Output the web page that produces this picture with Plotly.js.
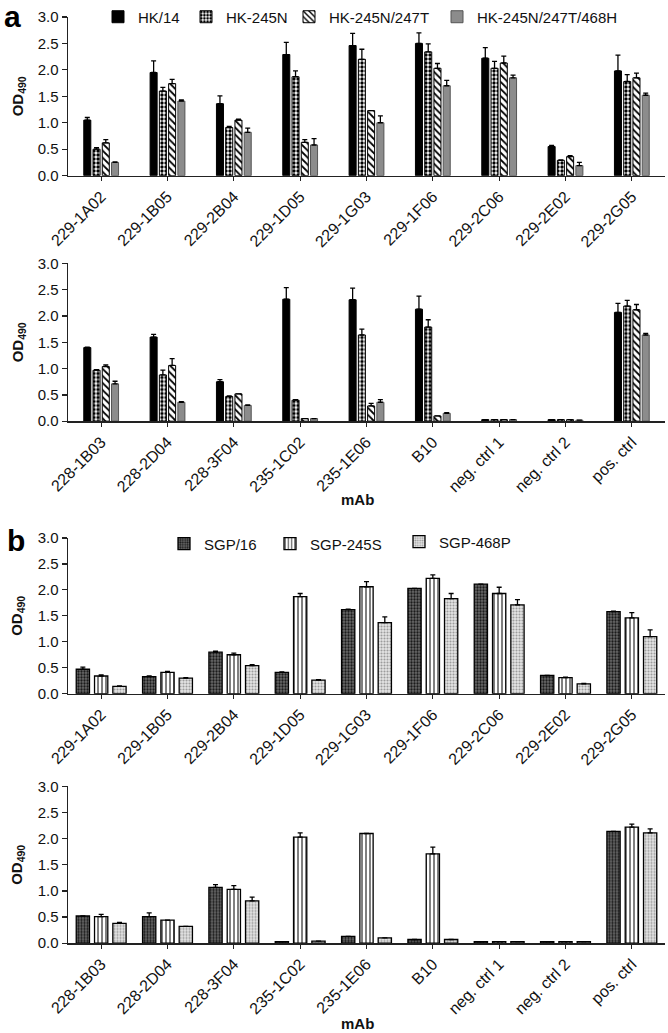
<!DOCTYPE html>
<html><head><meta charset="utf-8">
<script src="https://cdn.plot.ly/plotly-3.0.1.min.js"></script>
<style>html,body{margin:0;padding:0;background:#fff;}#chart{width:668px;height:1033px;}</style>
</head><body><div id="chart"></div>
<script>
// ---- data ----
const catsTop = ['229-1A02','229-1B05','229-2B04','229-1D05','229-1G03','229-1F06','229-2C06','229-2E02','229-2G05'];
const catsBottom = ['228-1B03','228-2D04','228-3F04','235-1C02','235-1E06','B10','neg. ctrl 1','neg. ctrl 2','pos. ctrl'];

const seriesA = ['HK/14','HK-245N','HK-245N/247T','HK-245N/247T/468H'];
const seriesB = ['SGP/16','SGP-245S','SGP-468P'];

// panel a, top row
const hk14Top      = [1.05,1.95,1.36,2.29,2.46,2.50,2.22,0.55,1.98];
const hk14TopErr   = [0.05,0.22,0.15,0.23,0.23,0.20,0.20,0.02,0.30];
const hk245Top     = [0.50,1.60,0.91,1.87,2.20,2.34,2.03,0.29,1.78];
const hk245TopErr  = [0.03,0.07,0.02,0.11,0.19,0.15,0.13,0.01,0.13];
const hk247Top     = [0.62,1.74,1.05,0.63,1.23,2.03,2.13,0.36,1.85];
const hk247TopErr  = [0.06,0.08,0.02,0.05,0.00,0.09,0.13,0.02,0.09];
const hk468Top     = [0.25,1.41,0.82,0.58,1.00,1.70,1.85,0.19,1.52];
const hk468TopErr  = [0.01,0.02,0.08,0.12,0.13,0.10,0.05,0.06,0.04];
// panel a, bottom row
const hk14Bot      = [1.40,1.60,0.75,2.32,2.31,2.13,0.03,0.03,2.07];
const hk14BotErr   = [0.01,0.05,0.04,0.22,0.22,0.25,0.00,0.00,0.17];
const hk245Bot     = [0.97,0.88,0.47,0.40,1.64,1.79,0.03,0.03,2.19];
const hk245BotErr  = [0.01,0.09,0.01,0.01,0.11,0.14,0.00,0.00,0.11];
const hk247Bot     = [1.04,1.06,0.52,0.05,0.29,0.10,0.03,0.03,2.12];
const hk247BotErr  = [0.03,0.13,0.00,0.00,0.05,0.00,0.00,0.00,0.10];
const hk468Bot     = [0.71,0.36,0.30,0.05,0.36,0.15,0.03,0.02,1.64];
const hk468BotErr  = [0.05,0.01,0.01,0.00,0.05,0.01,0.00,0.00,0.03];
// panel b, top row
const sgp16Top     = [0.47,0.33,0.80,0.41,1.62,2.03,2.11,0.35,1.58];
const sgp16TopErr  = [0.04,0.01,0.02,0.01,0.01,0.00,0.00,0.00,0.01];
const sgp245Top    = [0.34,0.41,0.75,1.87,2.06,2.22,1.93,0.31,1.46];
const sgp245TopErr = [0.02,0.02,0.03,0.06,0.10,0.07,0.12,0.01,0.10];
const sgp468Top    = [0.14,0.30,0.54,0.26,1.37,1.83,1.71,0.19,1.10];
const sgp468TopErr = [0.01,0.01,0.02,0.01,0.11,0.10,0.10,0.01,0.13];
// panel b, bottom row
const sgp16Bot     = [0.52,0.51,1.07,0.03,0.13,0.07,0.03,0.03,2.14];
const sgp16BotErr  = [0.00,0.07,0.05,0.00,0.00,0.00,0.00,0.00,0.00];
const sgp245Bot    = [0.51,0.44,1.03,2.03,2.10,1.71,0.03,0.03,2.22];
const sgp245BotErr = [0.04,0.00,0.07,0.08,0.00,0.13,0.00,0.00,0.06];
const sgp468Bot    = [0.38,0.32,0.81,0.04,0.10,0.07,0.03,0.03,2.11];
const sgp468BotErr = [0.02,0.00,0.07,0.00,0.00,0.00,0.00,0.00,0.08];

// ---- styles ----
const FONT = 'Liberation Sans, Arial, sans-serif';
const stylesA = [
  {color:'#000000', line:{color:'#000', width:1}},
  {color:'#ffffff', line:{color:'#000', width:1}, pattern:{shape:'.', fgcolor:'#000', bgcolor:'#fff', size:4, solidity:0.55}},
  {color:'#ffffff', line:{color:'#000', width:1}, pattern:{shape:'\\', fgcolor:'#000', bgcolor:'#fff', size:5, solidity:0.35}},
  {color:'#8c8c8c', line:{color:'#555', width:1}}
];
const stylesB = [
  {color:'#555555', line:{color:'#000', width:1.3}, pattern:{shape:'.', fgcolor:'#1a1a1a', bgcolor:'#6a6a6a', size:3, solidity:0.45}},
  {color:'#ffffff', line:{color:'#000', width:1.3}, pattern:{shape:'|', fgcolor:'#000', bgcolor:'#fff', size:4, solidity:0.25}},
  {color:'#dddddd', line:{color:'#000', width:1.3}, pattern:{shape:'.', fgcolor:'#9a9a9a', bgcolor:'#e6e6e6', size:3, solidity:0.4}}
];

// bar geometry (category units)
const slotA = 0.1395, barA = 0.106;
const slotB = 0.276,  barB = 0.20;

function mk(x, y, err, idx, names, styles, slot, bw, xa, ya, showleg, legend){
  const n = names.length;
  return {
    type:'bar', x:x, y:y, name:names[idx], xaxis:xa, yaxis:ya,
    width:bw, offset:-n*slot/2 + idx*slot + (slot-bw)/2,
    marker:styles[idx],
    error_y:{type:'data', symmetric:false, array:err, arrayminus:err.map(()=>0), color:'#000', thickness:1.3, width:2.5},
    showlegend:showleg, legend:legend, hoverinfo:'x+y'
  };
}

const topA = [[hk14Top,hk14TopErr],[hk245Top,hk245TopErr],[hk247Top,hk247TopErr],[hk468Top,hk468TopErr]];
const botA = [[hk14Bot,hk14BotErr],[hk245Bot,hk245BotErr],[hk247Bot,hk247BotErr],[hk468Bot,hk468BotErr]];
const topB = [[sgp16Top,sgp16TopErr],[sgp245Top,sgp245TopErr],[sgp468Top,sgp468TopErr]];
const botB = [[sgp16Bot,sgp16BotErr],[sgp245Bot,sgp245BotErr],[sgp468Bot,sgp468BotErr]];

const legIdsA = ['legend','legend2','legend3','legend4'];
const legIdsB = ['legend5','legend6','legend7'];

const traces = [];
topA.forEach((s,i)=>traces.push(mk(catsTop, s[0], s[1], i, seriesA, stylesA, slotA, barA, 'x', 'y', true, legIdsA[i])));
botA.forEach((s,i)=>traces.push(mk(catsBottom, s[0], s[1], i, seriesA, stylesA, slotA, barA, 'x2', 'y2', false, legIdsA[i])));
topB.forEach((s,i)=>traces.push(mk(catsTop, s[0], s[1], i, seriesB, stylesB, slotB, barB, 'x3', 'y3', true, legIdsB[i])));
botB.forEach((s,i)=>traces.push(mk(catsBottom, s[0], s[1], i, seriesB, stylesB, slotB, barB, 'x4', 'y4', false, legIdsB[i])));

const W = 668, H = 1033;
const xDom = [68/W, 665/W];
const yDoms = [[15,174],[262,420],[537,693],[786,943]].map(p=>[1-p[1]/H, 1-p[0]/H]);

function xax(anchor){
  return {domain:xDom, anchor:anchor, type:'category', range:[-0.5,8.5], showline:true, linecolor:'#222', linewidth:1.5,
    ticks:'outside', ticklen:4, tickwidth:1.2, tickcolor:'#222', tickangle:-45, showgrid:false, zeroline:false,
    tickfont:{family:FONT, size:16, color:'#111'}, fixedrange:true};
}
function yax(anchor, dom){
  return {domain:dom, anchor:anchor, range:[0,3], dtick:0.5, tickformat:'.1f', showline:true, linecolor:'#222', linewidth:1.5,
    ticks:'outside', ticklen:5, tickwidth:1.2, tickcolor:'#222', showgrid:false, zeroline:false,
    tickfont:{family:FONT, size:15, color:'#111'}, fixedrange:true};
}

const annotations = [];
yDoms.forEach(d=>annotations.push({xref:'paper', yref:'paper', x:18/W, y:(d[0]+d[1])/2, text:'<b>OD<sub>490</sub></b>', textangle:-90,
  showarrow:false, xanchor:'center', yanchor:'middle', font:{family:FONT, size:15, color:'#111'}}));
[498, 1023].forEach(py=>annotations.push({xref:'paper', yref:'paper', x:357/W, y:1-py/H, text:'<b>mAb</b>', showarrow:false,
  xanchor:'center', yanchor:'middle', font:{family:FONT, size:15, color:'#111'}}));
annotations.push({xref:'paper', yref:'paper', x:12/W, y:1-15/H, text:'<b>a</b>', showarrow:false, xanchor:'center', yanchor:'middle', font:{family:FONT, size:30, color:'#000'}});
annotations.push({xref:'paper', yref:'paper', x:16/W, y:1-540/H, text:'<b>b</b>', showarrow:false, xanchor:'center', yanchor:'middle', font:{family:FONT, size:30, color:'#000'}});

// legend text left edges (px) in the reference, one legend per series
const legTextXA = [136, 224, 327, 475];
const legTextXB = [202, 308, 437];

const layout = {
  width:W, height:H, margin:{l:0, r:0, t:0, b:0}, paper_bgcolor:'#fff', plot_bgcolor:'#fff',
  barmode:'overlay', font:{family:FONT, color:'#111'},
  xaxis:xax('y'), yaxis:yax('x', yDoms[0]),
  xaxis2:xax('y2'), yaxis2:yax('x2', yDoms[1]),
  xaxis3:xax('y3'), yaxis3:yax('x3', yDoms[2]),
  xaxis4:xax('y4'), yaxis4:yax('x4', yDoms[3]),
  annotations:annotations
};
function legCfg(tx, py){
  return {orientation:'h', x:(tx-38)/W, xanchor:'left', y:1-py/H, yanchor:'middle', bgcolor:'rgba(0,0,0,0)',
    font:{family:FONT, size:15, color:'#111'}, itemwidth:30};
}
legIdsA.forEach((id,i)=>layout[id] = legCfg(legTextXA[i], 15));
legIdsB.forEach((id,i)=>layout[id] = legCfg(legTextXB[i], i===2 ? 541 : 543));

Plotly.newPlot('chart', traces, layout, {displayModeBar:false, staticPlot:true});
</script>
</body></html>
